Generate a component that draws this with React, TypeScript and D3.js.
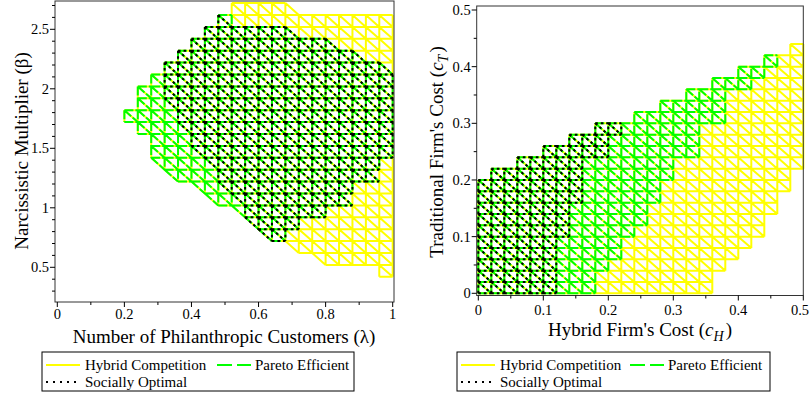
import React from 'react';
import * as d3 from 'd3';

const W = 810;
const H = 396;

// ---------------- Left panel data ----------------
const lambdaTicks = [0, 0.2, 0.4, 0.6, 0.8, 1];
const lambdaTickLabels = ['0', '0.2', '0.4', '0.6', '0.8', '1'];
const betaTicks = [0.5, 1, 1.5, 2, 2.5];
const betaTickLabels = ['0.5', '1', '1.5', '2', '2.5'];
// grid of the implicit region plot: λ columns and β rows
const lambdaGridStart = 0.2;
const lambdaGridStep = 0.04;
const betaGridTop = 2.72;
const betaGridStep = 0.1;
// rows from the top β row downward; [first, last] half-cell index:
// 2j = lower-left triangle of column j, 2j+1 = upper-right triangle of column j
type Row = [number, number] | null;
const leftHybrid: Row[] = [
  [16, 24], [14, 39], [12, 39], [10, 39], [8, 39], [6, 39], [4, 39], [2, 39],
  [2, 39], [0, 39], [2, 39], [4, 39], [4, 39], [5, 39], [7, 39], [11, 39],
  [13, 39], [17, 39], [19, 39], [21, 39], [25, 39], [29, 39], [38, 39],
];
const leftPareto: Row[] = [
  null, [14, 15], [12, 24], [10, 30], [8, 34], [6, 38], [4, 39], [2, 39],
  [2, 39], [0, 39], [2, 39], [4, 39], [4, 39], [5, 37], [7, 36], [11, 33],
  [13, 32], [17, 29], [19, 25], [21, 23], null, null, null,
];
const leftSocial: Row[] = [
  null, [14, 14], [12, 24], [10, 30], [8, 34], [6, 38], [6, 39], [6, 39],
  [7, 39], [8, 39], [9, 39], [10, 39], [11, 39], [13, 37], [14, 36], [15, 33],
  [17, 32], [18, 29], [19, 25], [21, 23], null, null, null,
];

// ---------------- Right panel data ----------------
const cHTicks = [0, 0.1, 0.2, 0.3, 0.4, 0.5];
const cHTickLabels = ['0', '0.1', '0.2', '0.3', '0.4', '0.5'];
const cTTicks = [0, 0.1, 0.2, 0.3, 0.4, 0.5];
const cTTickLabels = ['0', '0.1', '0.2', '0.3', '0.4', '0.5'];
const costGridStep = 0.02;
// rows from c_T = 0 upward
const rightHybrid: Row[] = [
  [0, 35], [0, 35], [0, 37], [0, 39], [0, 41], [0, 43], [0, 43], [0, 45],
  [0, 45], [0, 47], [2, 47], [6, 49], [10, 49], [14, 49], [18, 49], [24, 49],
  [28, 49], [32, 49], [36, 49], [40, 49], [44, 49], [48, 49],
];
const rightPareto: Row[] = [
  [0, 17], [0, 17], [0, 19], [0, 21], [0, 21], [0, 23], [0, 25], [0, 25],
  [0, 27], [0, 27], [2, 29], [6, 29], [10, 33], [14, 33], [18, 33], [24, 37],
  [28, 37], [32, 37], [36, 41], [40, 43], [44, 45], null,
];
const rightSocial: Row[] = [
  [0, 11], [0, 11], [0, 11], [0, 11], [0, 11], [0, 13], [0, 13], [0, 13],
  [0, 15], [0, 15], [2, 15], [6, 15], [10, 19], [14, 19], [18, 21], null,
  null, null, null, null, null, null,
];

const legendLabels = ['Hybrid Competition', 'Pareto Efficient', 'Socially Optimal'];

// ---------------- helpers ----------------
function buildMesh(rows: Row[], topIdx: (r: number) => number, botIdx: (r: number) => number) {
  const map = new Map<string, number[]>();
  const add = (k1: number, b1: number, k2: number, b2: number) => {
    let a = [k1, b1];
    let c = [k2, b2];
    if (k1 > k2 || (k1 === k2 && b1 > b2)) {
      a = [k2, b2];
      c = [k1, b1];
    }
    const key = a.join(',') + '|' + c.join(',');
    if (!map.has(key)) map.set(key, [a[0], a[1], c[0], c[1]]);
  };
  rows.forEach((row, r) => {
    if (!row) return;
    const tb = topIdx(r);
    const bb = botIdx(r);
    for (let h = row[0]; h <= row[1]; h++) {
      const j = h >> 1;
      if (h % 2 === 0) {
        add(j, bb, j + 1, bb);
        add(j, bb, j, tb);
        add(j, tb, j + 1, bb);
      } else {
        add(j, tb, j + 1, tb);
        add(j + 1, tb, j + 1, bb);
        add(j, tb, j + 1, bb);
      }
    }
  });
  return [...map.values()];
}

const FONT = '"Liberation Serif", "Times New Roman", serif';
const TICK_FS = 14.5;

const STYLES = {
  hybrid: { stroke: '#ffff00', dash: undefined as string | undefined },
  pareto: { stroke: '#00ff00', dash: '9 2' },
  social: { stroke: '#000000', dash: '2.5 3' },
};

function MeshPath({ segs, px, py, style }: { segs: number[][]; px: (k: number) => number; py: (b: number) => number; style: { stroke: string; dash?: string } }) {
  const d = segs
    .map((s) => `M${px(s[0]).toFixed(2)},${py(s[1]).toFixed(2)}L${px(s[2]).toFixed(2)},${py(s[3]).toFixed(2)}`)
    .join('');
  return <path d={d} fill="none" stroke={style.stroke} strokeWidth={2} strokeDasharray={style.dash} />;
}

function Legend({ x, y, w, h, gx }: { x: number; y: number; w: number; h: number; gx: number }) {
  const y1 = y + 13;
  const y2 = y + 30;
  return (
    <g>
      <rect x={x} y={y} width={w} height={h} fill="#fff" stroke="#000" strokeWidth={1} />
      <line x1={x + 4} x2={x + 38} y1={y1} y2={y1} stroke="#ffff00" strokeWidth={2} />
      <text x={x + 43} y={y1 + 5} fontSize={15} fontFamily={FONT}>{legendLabels[0]}</text>
      <line x1={gx} x2={gx + 34} y1={y1} y2={y1} stroke="#00ff00" strokeWidth={2} strokeDasharray="15 5" />
      <text x={gx + 38} y={y1 + 5} fontSize={15} fontFamily={FONT}>{legendLabels[1]}</text>
      <line x1={x + 4} x2={x + 36} y1={y2} y2={y2} stroke="#000" strokeWidth={2} strokeDasharray="2 5" />
      <text x={x + 43} y={y2 + 5} fontSize={15} fontFamily={FONT}>{legendLabels[2]}</text>
    </g>
  );
}

export default function App() {
  // left panel scales
  const xL = d3.scaleLinear().domain([0, 1]).range([57.3, 392.7]);
  const yL = d3.scaleLinear().domain([0.5, 2.5]).range([267.3, 29.3]);
  const boxL = { x0: 55, x1: 394, y0: 1, y1: 302 };
  // right panel scales
  const xR = d3.scaleLinear().domain([0, 0.5]).range([478.3, 803.3]);
  const yR = d3.scaleLinear().domain([0, 0.5]).range([293.3, 10]);
  const boxR = { x0: 476.7, x1: 803.3, y0: 6, y1: 295.5 };

  const pxL = (k: number) => xL(lambdaGridStart + k * lambdaGridStep);
  const pyL = (b: number) => yL(betaGridTop - b * betaGridStep);
  const pxR = (k: number) => xR(k * costGridStep);
  const pyR = (b: number) => yR(b * costGridStep);

  const topL = (r: number) => r;
  const botL = (r: number) => r + 1;
  const topR = (r: number) => r + 1;
  const botR = (r: number) => r;

  const lMinorX = d3.range(0.1, 1, 0.2);
  const lMinorY = d3.range(0.3, 2.75, 0.1).filter((v) => Math.abs(v * 2 - Math.round(v * 2)) > 1e-6);
  const rMinor = d3.range(0.05, 0.5, 0.1);

  return (
    <svg width={W} height={H} style={{ position: 'absolute', left: 0, top: 0, background: '#fff' }}>
      <rect x={0} y={0} width={W} height={H} fill="#fff" />
      {/* ---------- Left panel ---------- */}
      <g>
        <MeshPath segs={buildMesh(leftHybrid, topL, botL)} px={pxL} py={pyL} style={STYLES.hybrid} />
        <MeshPath segs={buildMesh(leftPareto, topL, botL)} px={pxL} py={pyL} style={STYLES.pareto} />
        <MeshPath segs={buildMesh(leftSocial, topL, botL)} px={pxL} py={pyL} style={STYLES.social} />
        <rect x={boxL.x0} y={boxL.y0} width={boxL.x1 - boxL.x0} height={boxL.y1 - boxL.y0} fill="none" stroke="#333" strokeWidth={1} />
        {lambdaTicks.map((t, i) => (
          <g key={'lx' + i}>
            <line x1={xL(t)} x2={xL(t)} y1={boxL.y1} y2={boxL.y1 + 5} stroke="#000" />
            <text x={xL(t)} y={boxL.y1 + 17} fontSize={TICK_FS} fontFamily={FONT} textAnchor="middle">{lambdaTickLabels[i]}</text>
          </g>
        ))}
        {lMinorX.map((t, i) => (
          <line key={'lmx' + i} x1={xL(t)} x2={xL(t)} y1={boxL.y1} y2={boxL.y1 + 3} stroke="#000" />
        ))}
        {betaTicks.map((t, i) => (
          <g key={'ly' + i}>
            <line x1={boxL.x0 - 5} x2={boxL.x0} y1={yL(t)} y2={yL(t)} stroke="#000" />
            <text x={boxL.x0 - 6} y={yL(t) + 5} fontSize={TICK_FS} fontFamily={FONT} textAnchor="end">{betaTickLabels[i]}</text>
          </g>
        ))}
        {lMinorY.map((t, i) => (
          <line key={'lmy' + i} x1={boxL.x0 - 3} x2={boxL.x0} y1={yL(t)} y2={yL(t)} stroke="#000" />
        ))}
        <text x={224} y={343} fontSize={19} fontFamily={FONT} textAnchor="middle">Number of Philanthropic Customers (λ)</text>
        <text transform="translate(28,151) rotate(-90)" fontSize={19} fontFamily={FONT} textAnchor="middle">Narcissistic Multiplier (β)</text>
        <Legend x={42} y={352} w={312} h={39} gx={217} />
      </g>

      {/* ---------- Right panel ---------- */}
      <g>
        <MeshPath segs={buildMesh(rightHybrid, topR, botR)} px={pxR} py={pyR} style={STYLES.hybrid} />
        <MeshPath segs={buildMesh(rightPareto, topR, botR)} px={pxR} py={pyR} style={STYLES.pareto} />
        <MeshPath segs={buildMesh(rightSocial, topR, botR)} px={pxR} py={pyR} style={STYLES.social} />
        <rect x={boxR.x0} y={boxR.y0} width={boxR.x1 - boxR.x0} height={boxR.y1 - boxR.y0} fill="none" stroke="#333" strokeWidth={1} />
        {cHTicks.map((t, i) => {
          const last = i === cHTicks.length - 1;
          return (
            <g key={'rx' + i}>
              <line x1={xR(t)} x2={xR(t)} y1={boxR.y1} y2={boxR.y1 + 5} stroke="#000" />
              <text x={last ? W - 1 : xR(t)} y={boxR.y1 + 19} fontSize={TICK_FS} fontFamily={FONT} textAnchor={last ? 'end' : 'middle'}>{cHTickLabels[i]}</text>
            </g>
          );
        })}
        {rMinor.map((t, i) => (
          <line key={'rmx' + i} x1={xR(t)} x2={xR(t)} y1={boxR.y1} y2={boxR.y1 + 3} stroke="#000" />
        ))}
        {cTTicks.map((t, i) => (
          <g key={'ry' + i}>
            <line x1={boxR.x0 - 5} x2={boxR.x0} y1={yR(t)} y2={yR(t)} stroke="#000" />
            <text x={boxR.x0 - 6} y={yR(t) + 5} fontSize={TICK_FS} fontFamily={FONT} textAnchor="end">{cTTickLabels[i]}</text>
          </g>
        ))}
        {rMinor.map((t, i) => (
          <line key={'rmy' + i} x1={boxR.x0 - 3} x2={boxR.x0} y1={yR(t)} y2={yR(t)} stroke="#000" />
        ))}
        <text x={640} y={336} fontSize={19} fontFamily={FONT} textAnchor="middle">
          Hybrid Firm's Cost (<tspan fontStyle="italic">c</tspan>
          <tspan fontStyle="italic" fontSize={14} dy={5}>H</tspan>
          <tspan dy={-5} dx={2}>)</tspan>
        </text>
        <text transform="translate(443,152) rotate(-90)" fontSize={19} fontFamily={FONT} textAnchor="middle">
          Traditional Firm's Cost (<tspan fontStyle="italic">c</tspan>
          <tspan fontStyle="italic" fontSize={14} dy={5}>T</tspan>
          <tspan dy={-5} dx={2}>)</tspan>
        </text>
        <Legend x={457} y={352} w={313} h={39} gx={630} />
      </g>
    </svg>
  );
}
